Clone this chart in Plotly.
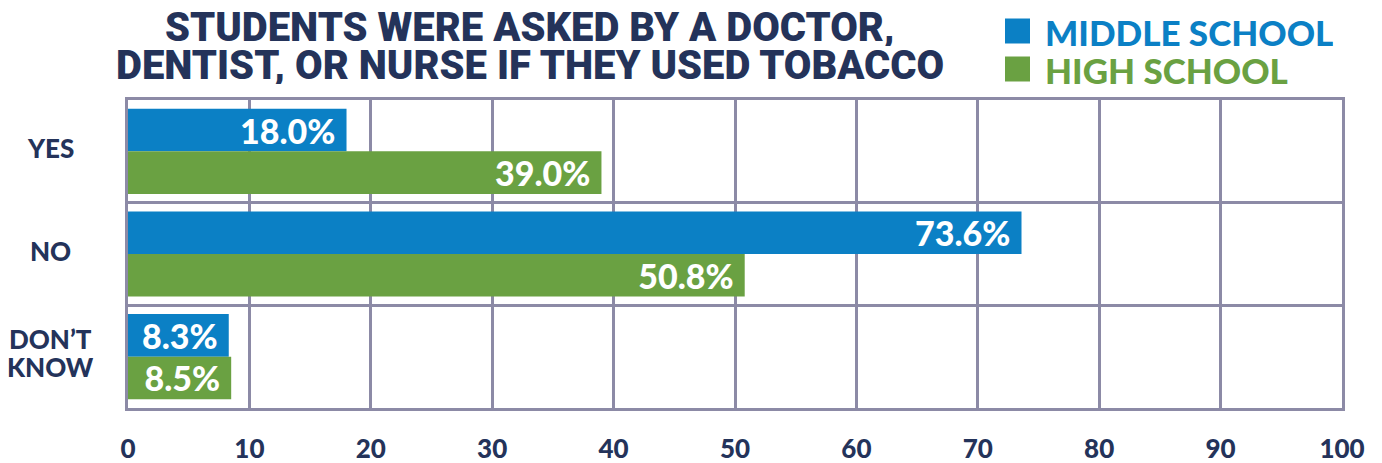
import plotly.graph_objects as go

categories = ["YES", "NO", "DON'T KNOW"]
category_lines = [["YES"], ["NO"], ["DON’T", "KNOW"]]
middle_school = [18.0, 73.6, 8.3]
high_school = [39.0, 50.8, 8.5]
x_ticks = [0, 10, 20, 30, 40, 50, 60, 70, 80, 90, 100]
title_lines = ["STUDENTS WERE ASKED BY A DOCTOR,", "DENTIST, OR NURSE IF THEY USED TOBACCO"]
series_names = ["MIDDLE SCHOOL", "HIGH SCHOOL"]

BLUE = "#0b80c5"
GREEN = "#6aa142"
NAVY = "#24335a"
GRID = "#8c8aa6"
LABEL_FONT = dict(family="Lato", size=34, color="white", weight=900)

PLOT_TOP = 100
PLOT_H = 308

fig = go.Figure()
for name, vals, col in [(series_names[0], middle_school, BLUE), (series_names[1], high_school, GREEN)]:
    fig.add_trace(go.Bar(
        name=name, y=categories, x=vals, orientation="h", marker_color=col,
        marker_line_width=0,
        text=[f"{v:.1f}%\u00a0" for v in vals], textposition="inside",
        insidetextanchor="end", textfont=LABEL_FONT, constraintext="none",
        cliponaxis=False, showlegend=False,
    ))

fig.update_layout(
    width=1382, height=463,
    margin=dict(l=128, r=40, t=PLOT_TOP, b=463 - PLOT_TOP - PLOT_H, autoexpand=False),
    paper_bgcolor="white", plot_bgcolor="white",
    barmode="group", bargap=0.17, bargroupgap=0.0,
    xaxis=dict(range=[0, 100], tickvals=x_ticks, showgrid=True, gridcolor=GRID, gridwidth=3,
               showline=True, linecolor=GRID, linewidth=3, mirror=True, zeroline=False,
               ticks="", ticklabelstandoff=16, automargin=False,
               tickfont=dict(family="Lato", size=26, color=NAVY, weight=900)),
    yaxis=dict(categoryorder="array", categoryarray=categories, autorange="reversed",
               tickson="boundaries", showgrid=True, gridcolor=GRID, gridwidth=3,
               showline=True, linecolor=GRID, linewidth=3, mirror=True, automargin=False,
               showticklabels=False, ticks=""),
    showlegend=False,
)

# category labels
for cat, lines in zip(categories, category_lines):
    n = len(lines)
    for j, line in enumerate(lines):
        fig.add_annotation(x=-0.064, xref="paper", y=cat, yref="y", text=line, showarrow=False,
                           xanchor="center", yanchor="middle", align="center", valign="middle",
                           height=27, yshift=(n - 1) * 14 - 28 * j + 4,
                           font=dict(family="Lato", size=26, color=NAVY, weight=900))

# title
for i, line in enumerate(title_lines):
    fig.add_annotation(x=0.3312, xref="paper", y=1 + (PLOT_TOP - 27 - 38 * i) / PLOT_H, yref="paper",
                       text=line, showarrow=False, xanchor="center", yanchor="middle",
                       valign="middle", height=37,
                       font=dict(family="Roboto", size=40, color=NAVY, weight=900))

# legend
for i, (name, col) in enumerate(zip(series_names, [BLUE, GREEN])):
    cy = 31 + 38 * i
    fig.add_shape(type="rect", xref="paper", yref="paper",
                  x0=(1005 - 128) / 1214, x1=(1030 - 128) / 1214,
                  y0=1 + (PLOT_TOP - cy + 12.5) / PLOT_H, y1=1 + (PLOT_TOP - cy - 12.5) / PLOT_H,
                  fillcolor=col, line_width=0)
    fig.add_annotation(x=(1043 - 128) / 1214, xref="paper", y=1 + (PLOT_TOP - cy) / PLOT_H, yref="paper",
                       text=name, showarrow=False, xanchor="left", yanchor="middle",
                       valign="middle", height=37,
                       font=dict(family="Lato", size=35, color=col, weight=900))

fig.write_html("out.html")
